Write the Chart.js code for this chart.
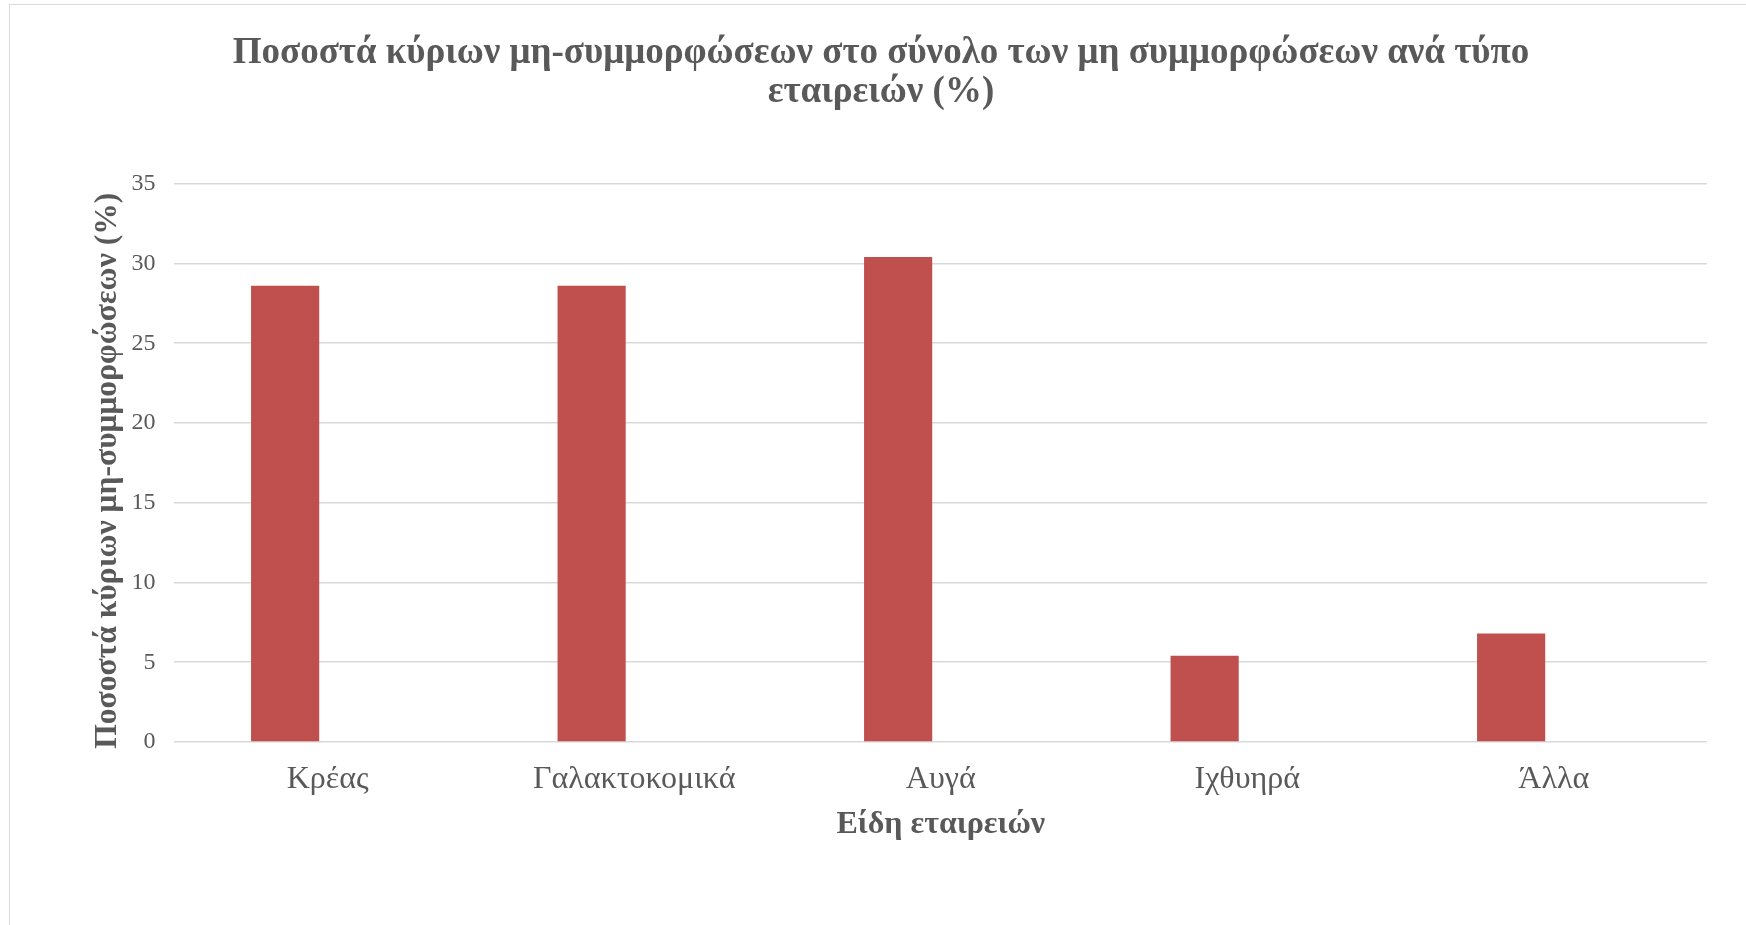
<!DOCTYPE html>
<html>
<head>
<meta charset="utf-8">
<script src="https://cdn.jsdelivr.net/npm/chart.js@4"></script>
<style>
  html, body { margin: 0; padding: 0; background: #fff; }
  #wrap { position: relative; width: 1746px; height: 925px; overflow: hidden; }
  #frame { position: absolute; left: 9px; top: 4px; width: 1760px; height: 940px; border: 1px solid #d9d9d9; }
  #chart { position: absolute; left: 0; top: 0; }
</style>
</head>
<body>
<div id="wrap">
  <div id="frame"></div>
  <canvas id="chart" width="1746" height="925"></canvas>
</div>
<script>
// chart values
const categories = ['Κρέας', 'Γαλακτοκομικά', 'Αυγά', 'Ιχθυηρά', 'Άλλα'];
const shares = [28.6, 28.6, 30.4, 5.4, 6.8];
// the source chart keeps an empty second series, which pushes the bars left of centre
const emptySeries = [null, null, null, null, null];
const titleLines = [
    'Ποσοστά κύριων μη-συμμορφώσεων στο σύνολο των μη συμμορφώσεων ανά τύπο',
    'εταιρειών (%)'
];
const yTitle = 'Ποσοστά κύριων μη-συμμορφώσεων (%)';
const xTitle = 'Είδη εταιρειών';

const grey = '#595959';
const serif = "'Liberation Serif', 'Times New Roman', serif";

const ctx = document.getElementById('chart').getContext('2d');

new Chart(ctx, {
    type: 'bar',
    data: {
        labels: categories,
        datasets: [
            {
                data: shares,
                backgroundColor: '#c0504d',
                borderWidth: 0,
                barPercentage: 0.8,
                categoryPercentage: 0.556,
            },
            {
                data: emptySeries,
                backgroundColor: '#4f81bd',
                borderWidth: 0,
                barPercentage: 0.8,
                categoryPercentage: 0.556,
            },
        ],
    },
    options: {
        responsive: false,
        animation: false,
        layout: {
            padding: { top: 34, left: 55, right: 39, bottom: 91 },
        },
        plugins: {
            legend: { display: false },
            tooltip: { enabled: false },
            title: {
                display: true,
                text: titleLines,
                color: grey,
                font: { family: serif, size: 37, weight: 'bold', lineHeight: 1.05 },
                padding: { top: 0, bottom: 72 },
            },
        },
        scales: {
            x: {
                grid: { display: false, drawTicks: false },
                border: { display: false },
                ticks: {
                    color: grey,
                    font: { family: serif, size: 32 },
                    padding: 18,
                },
                title: {
                    display: true,
                    text: xTitle,
                    color: grey,
                    font: { family: serif, size: 32, weight: 'bold', lineHeight: 0.55 },
                    padding: { top: 0, bottom: 0 },
                },
            },
            y: {
                min: 0,
                max: 35,
                ticks: {
                    stepSize: 5,
                    color: grey,
                    font: { family: serif, size: 24 },
                    padding: 19,
                },
                grid: { color: '#d9d9d9', lineWidth: 1.5, drawTicks: false },
                border: { display: false },
                title: {
                    display: true,
                    // two trailing spaces nudge the rotated title down a little, as in the source
                    text: yTitle + '  ',
                    color: grey,
                    font: { family: serif, size: 31.6, weight: 'bold', lineHeight: 0.3 },
                    padding: { top: 48, bottom: 0 },
                },
            },
        },
    },
});
</script>
</body>
</html>
